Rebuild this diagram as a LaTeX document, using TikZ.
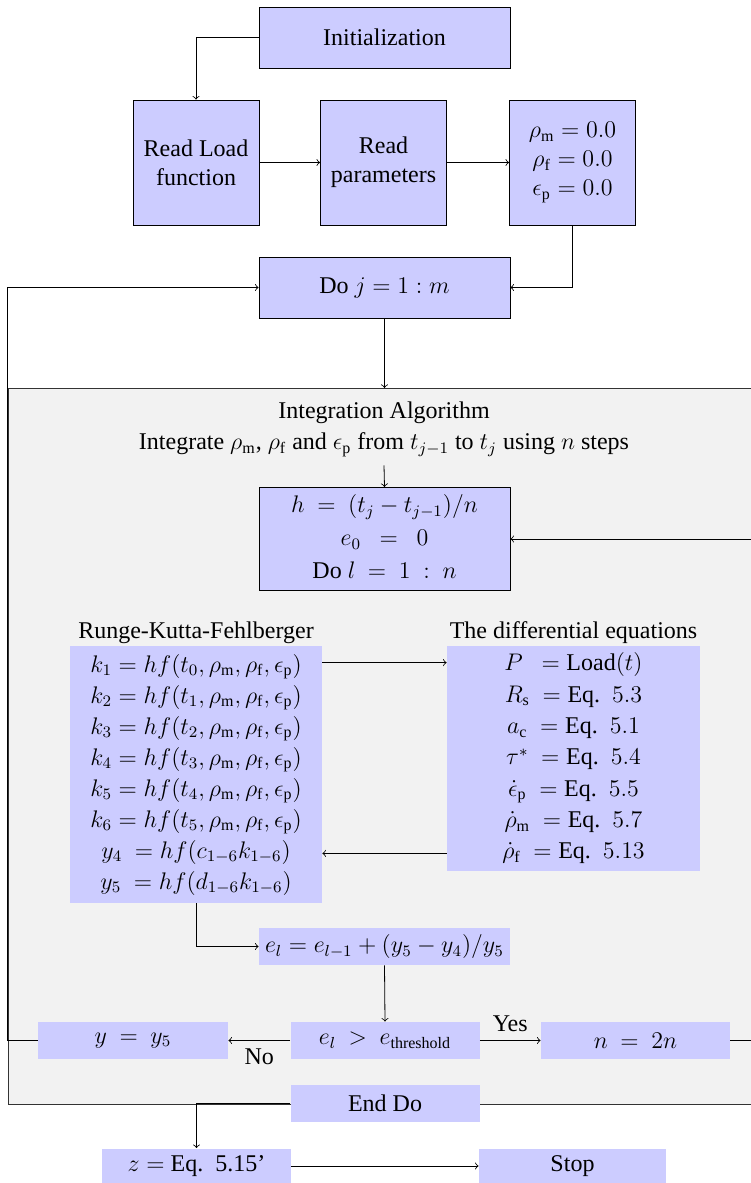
\documentclass[12pt,tikz,border=0pt]{standalone}
\usepackage{amsmath}
\usepackage{fontspec}
\setmainfont{Liberation Serif}
\usetikzlibrary{
  positioning % For the captions above the boxes
}

\begin{document}
\begin{tikzpicture}[
      x=0.5pt, y=-0.5pt, % one unit per pixel, y downwards
      block/.style={draw, fill=blue!20, align=center, inner sep=1pt}, % Framed box
      flat/.style={fill=blue!20, align=center, inner sep=1pt}, % Box without frame
      caption/.style={inner sep=1pt}, % Text above a box
      flow/.style={->}, % Connectors
    ]

    % Größen
    \def\wide{125.5pt}
    \def\narrow{63pt}
    \def\short{94.5pt}
    \renewcommand{\arraystretch}{1.07}

    \useasboundingbox (0,0) rectangle (750,1183);

    % Integrationsbereich
    \draw[fill=gray!10, draw=black!80] (8,388) rectangle (760,1104);
    \coordinate (boxtop) at (384.5,388);

    % Einlesen
    \node[block, minimum width=\wide, minimum height=30.5pt] (init) at (384.5,37.5) {Initialization};
    \node[block, minimum width=\narrow, minimum height=62.5pt] (load) at (196,162.5) {Read Load\\function};
    \node[block, minimum width=\narrow, minimum height=62.5pt] (par) at (383.5,162.5) {Read\\parameters};
    \node[block, minimum width=\narrow, minimum height=62.5pt] (rho) at (572.5,162.5)
      {$\rho_\mathrm{m} = 0.0$\\$\rho_\mathrm{f} = 0.0$\\$\epsilon_\mathrm{p} = 0.0$};
    \node[block, minimum width=\wide, minimum height=30.5pt] (doj) at (384.5,287.5) {Do $j = 1 : m$};

    % Integration
    \node[caption] (title) at (384,413) {Integration Algorithm};
    \node (integ) at (384,445)
      {Integrate $\rho_\mathrm{m}$, $\rho_\mathrm{f}$ and $\epsilon_\mathrm{p}$ from $t_{j-1}$ to $t_j$ using $n$ steps};
    \node[block, minimum width=\wide, minimum height=50pt] (hbox) at (384.5,539)
      {$\renewcommand{\arraystretch}{1.14}\begin{array}{c}
        h\ =\ (t_j - t_{j-1})/n\\
        e_0\ \ =\ \ 0\\
        \text{Do}\ l\ =\ 1\ :\ n
      \end{array}$};

    \node[flat, minimum width=126pt, minimum height=128.5pt] (rk) at (196,774.5)
      {$\begin{array}{c}
        k_1 = hf(t_0, \rho_\mathrm{m}, \rho_\mathrm{f}, \epsilon_\mathrm{p})\\
        k_2 = hf(t_1, \rho_\mathrm{m}, \rho_\mathrm{f}, \epsilon_\mathrm{p})\\
        k_3 = hf(t_2, \rho_\mathrm{m}, \rho_\mathrm{f}, \epsilon_\mathrm{p})\\
        k_4 = hf(t_3, \rho_\mathrm{m}, \rho_\mathrm{f}, \epsilon_\mathrm{p})\\
        k_5 = hf(t_4, \rho_\mathrm{m}, \rho_\mathrm{f}, \epsilon_\mathrm{p})\\
        k_6 = hf(t_5, \rho_\mathrm{m}, \rho_\mathrm{f}, \epsilon_\mathrm{p})\\
        y_4\ = hf(c_{1-6}k_{1-6})\\
        y_5\ = hf(d_{1-6}k_{1-6})
      \end{array}$};
    \node[caption, above=0pt of rk] (rklabel) {Runge-Kutta-Fehlberger};

    \node[flat, minimum width=126.5pt, minimum height=112.5pt] (de) at (573.5,758.5)
      {$\renewcommand{\arraystretch}{1.08}\begin{array}{c}
        P\ \ = \text{Load}(t)\\
        R_\mathrm{s}\ = \text{Eq.}\ \ 5.3\\
        a_\mathrm{c}\ = \text{Eq.}\ \ 5.1\\
        \tau^*\ = \text{Eq.}\ \ 5.4\\
        \dot{\epsilon}_\mathrm{p}\ = \text{Eq.}\ \ 5.5\\
        \dot{\rho}_\mathrm{m}\ = \text{Eq.}\ \ 5.7\\
        \dot{\rho}_\mathrm{f}\ = \text{Eq.}\ \ 5.13
      \end{array}$};
    \node[caption, above=0pt of de] (delabel) {The differential equations};

    \node[flat, minimum width=\wide, minimum height=18.5pt] (el) at (384.5,946.5)
      {$e_l = e_{l-1} + (y_5 - y_4)/y_5$};
    \node[flat, minimum width=\short, minimum height=18.5pt] (dec) at (385,1040.5)
      {$e_l\ >\ e_\mathrm{threshold}$};
    \node[flat, minimum width=95pt, minimum height=18.5pt] (ybox) at (133,1040.5) {$y\ =\ y_5$};
    \node[flat, minimum width=\short, minimum height=18.5pt] (nbox) at (635.5,1040.5) {$n\ =\ 2n$};
    \node[flat, minimum width=\short, minimum height=18.5pt] (enddo) at (385,1103.5) {End Do};

    % Abschluss
    \node[flat, minimum width=\short, minimum height=17.5pt] (zbox) at (196.5,1166) {$z =$ Eq.\ \ 5.15'};
    \node[flat, minimum width=93.5pt, minimum height=17.5pt] (stop) at (572.5,1166) {Stop};

    % Verbindungen
    \draw[flow] (init.west) -| (load.north);
    \draw[flow] (load) -- (par);
    \draw[flow] (par) -- (rho);
    \draw[flow] (rho.south) |- (doj.east);
    \draw[flow] (doj.south) -- (boxtop);
    \draw[flow] (integ.south) -- (hbox.north);
    \draw[flow] ([yshift=-8.5pt]rk.north east) -- ([yshift=-8.5pt]de.north west);
    \draw[flow] ([yshift=9pt]de.south west) coordinate (back) -- (back -| rk.east);
    \draw[flow] (rk.south) |- (el.west);
    \draw[flow] (el.south) -- (dec.north);
    \draw[flow] (dec.west) -- (ybox.east) node[midway, below] {No};
    \draw[flow] (dec.east) -- (nbox.west) node[midway, above] {Yes};
    \draw[flow] (ybox.west) -- ++(-30,0) |- (doj.west);
    \draw[flow] (nbox.east) -- ++(22,0) |- (hbox.east);
    \draw[flow] (enddo.west) -| (zbox.north);
    \draw[flow] (zbox) -- (stop);

  \end{tikzpicture}
\end{document}
